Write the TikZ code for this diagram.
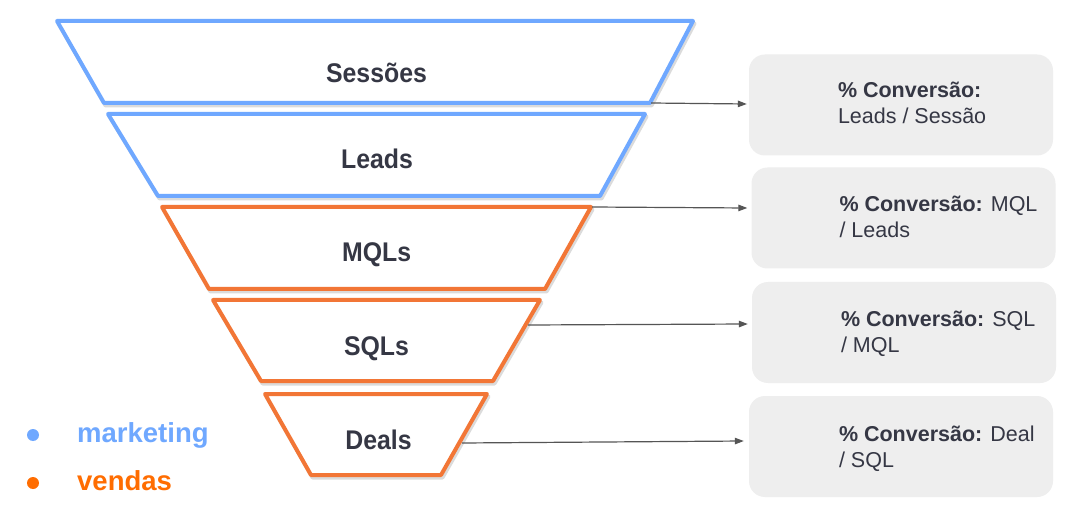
\documentclass[tikz,border=0pt]{standalone}
\usepackage{fontspec}
\setmainfont{Liberation Sans}
\newfontfamily\funnelfont{Liberation Sans}[FakeStretch=0.92]
\usetikzlibrary{arrows.meta,calc}
\definecolor{mblue}{HTML}{6FA8FF}
\definecolor{sorange}{HTML}{F27636}
\definecolor{vorange}{HTML}{FF6D01}
\definecolor{ink}{HTML}{353744}
\definecolor{boxgray}{HTML}{EEEEEE}
\definecolor{conngray}{HTML}{555555}
\tikzset{
  stage/.style={line width=4pt, line join=round, fill=white},
  stageshadow/.style={line width=4pt, line join=round, draw=black, opacity=0.14},
  stagelabel/.style={font=\funnelfont\bfseries\fontsize{27}{32}\selectfont, text=ink, anchor=base, inner sep=0pt},
  convbox/.style={fill=boxgray, rounded corners=16pt, minimum width=304pt, minimum height=101pt, inner sep=0pt},
  convtext/.style={font=\fontsize{21.5}{26}\selectfont, text=ink, align=left, anchor=north west, inner sep=0pt},
  conn/.style={draw=conngray, line width=1.2pt, -{Triangle[length=9pt,width=6.5pt]}},
  legdot/.style={circle, minimum size=12pt, inner sep=0pt},
  legtext/.style={font=\bfseries\fontsize{27.5}{32}\selectfont, anchor=base west, inner sep=0pt},
}
\begin{document}
\begin{tikzpicture}[x=1pt,y=-1pt]
\useasboundingbox[fill=white] (0,0) rectangle (1084,529);

% shadows of funnel stages
\begin{scope}[shift={(1.5,2.5)}]
\draw[stageshadow] (57,21) -- (693,21) -- (650,103) -- (104,103) -- cycle;
\draw[stageshadow] (108,114) -- (645,114) -- (600,196) -- (158,196) -- cycle;
\draw[stageshadow] (162,207) -- (591,207) -- (545,289) -- (209,289) -- cycle;
\draw[stageshadow] (213,300) -- (540,300) -- (493,381) -- (261,381) -- cycle;
\draw[stageshadow] (265,394) -- (487,394) -- (441,475) -- (311,475) -- cycle;
\end{scope}

% funnel stages
\draw[stage, draw=mblue] (57,21) -- (693,21) -- (650,103) -- (104,103) -- cycle;
\draw[stage, draw=mblue] (108,114) -- (645,114) -- (600,196) -- (158,196) -- cycle;
\draw[stage, draw=sorange] (162,207) -- (591,207) -- (545,289) -- (209,289) -- cycle;
\draw[stage, draw=sorange] (213,300) -- (540,300) -- (493,381) -- (261,381) -- cycle;
\draw[stage, draw=sorange] (265,394) -- (487,394) -- (441,475) -- (311,475) -- cycle;

\node[stagelabel] (lsess) at (376.5,83) {Sessões};
\node[stagelabel] (lleads) at (377,169) {Leads};
\node[stagelabel] (lmql) at (376.7,261.7) {MQLs};
\node[stagelabel] (lsql) at (376.5,355.7) {SQLs};
\node[stagelabel] (ldeal) at (378.5,449) {Deals};

% conversion boxes
\node[convbox] (b1) at (901,105) {};
\node[convbox] (b2) at (903.5,218) {};
\node[convbox] (b3) at (904,332.5) {};
\node[convbox] (b4) at (901,446.5) {};

\node[convtext] (t1) at ($(b1.north west)+(89,28)$) {\textbf{\% Conversão:}\\Leads / Sessão};
\node[convtext] (t2) at ($(b2.north west)+(88,29)$) {\textbf{\% Conversão:} MQL\\/ Leads};
\node[convtext] (t3) at ($(b3.north west)+(89,29.5)$) {\textbf{\% Conversão:} SQL\\/ MQL};
\node[convtext] (t4) at ($(b4.north west)+(90,29.5)$) {\textbf{\% Conversão:} Deal\\/ SQL};

% connectors
\coordinate (s1) at (651,103);
\coordinate (s2) at (592,207);
\coordinate (s3) at (528,325);
\coordinate (s4) at (462,443);
\coordinate (e1) at ($(b1.west)+(-2,-1)$);
\coordinate (e2) at ($(b2.west)+(-4,-10)$);
\coordinate (e3) at ($(b3.west)+(-4,-8.5)$);
\coordinate (e4) at ($(b4.west)+(-5,-5.5)$);
\draw[conn] (s1) -- (e1);
\draw[conn] (s2) -- (e2);
\draw[conn] (s3) -- (e3);
\draw[conn] (s4) -- (e4);

% legend
\node[legdot, fill=mblue] (dm) at (33,435) {};
\node[legdot, fill=vorange] (dv) at (33,483) {};
\node[legtext, text=mblue] (lm) at (77,442) {marketing};
\node[legtext, text=vorange] (lv) at (77,490) {vendas};
\end{tikzpicture}
\end{document}
